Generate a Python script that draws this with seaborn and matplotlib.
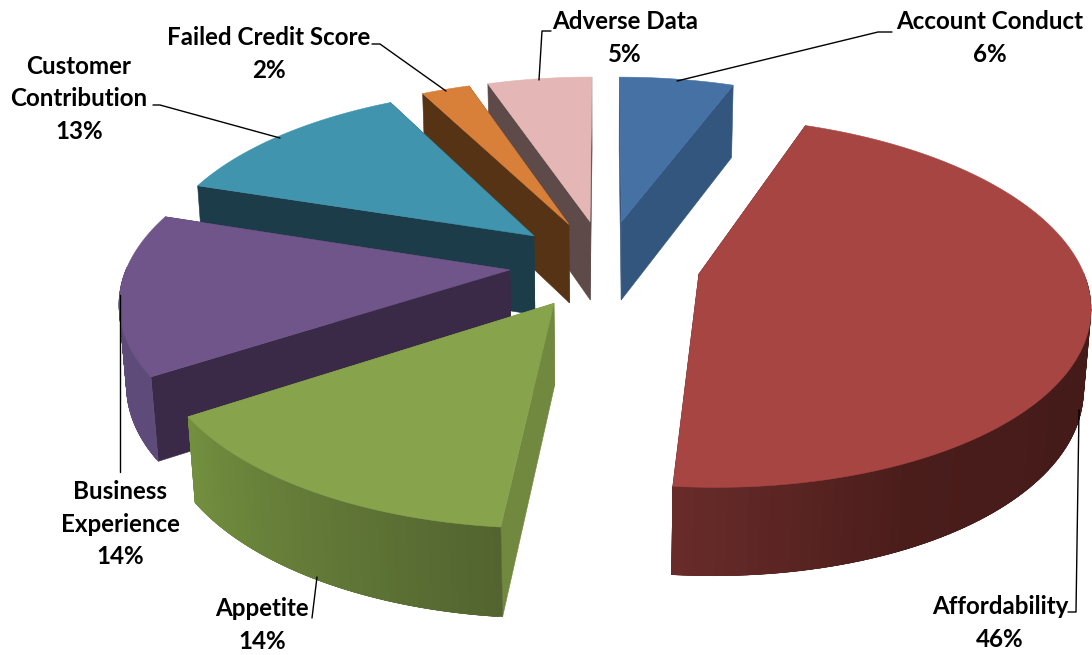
import numpy as np
import matplotlib
matplotlib.use('Agg')
import matplotlib.pyplot as plt
import seaborn as sns

labels = ['Account Conduct', 'Affordability', 'Appetite', 'Business\nExperience',
          'Customer\nContribution', 'Failed Credit Score', 'Adverse Data']
pct_text = [6, 46, 14, 14, 13, 2, 5]
# shares measured from the slice angles in the picture
shares = [5.7, 45.8, 14.3, 14.2, 12.4, 2.4, 5.2]

top_cols = ['#4671a5', '#a74543', '#87a44d', '#6f5589', '#4094ae', '#d8803a', '#e4b6b5']
radial_cols = ['#33567e', '#451b19', '#71893f', '#3a2a47', '#1b3c48', '#573316', '#5e4a49']
# outer wall colours, in clockwise order
arc_cols = [['#33567e', '#33567e'],
            ['#451b19', '#451b19', '#4a1d1b', '#692c2a'],
            ['#536430', '#73903f'],
            ['#5f4b7a', '#5f4b7a'],
            ['#1b3c48', '#1b3c48'],
            ['#573316', '#573316'],
            ['#5e4a49', '#5e4a49']]

# label position (centre of the block) and leader lines, in pixels
label_pos = [(990, 38), (1000, 623), (262, 625), (120, 524), (79, 99), (269, 54), (625, 38)]
leaders = [[(892, 32), (878, 32), (677, 81)],
           [(1068, 612), (1076, 612), (1079, 410)],
           [(312, 618), (317, 577)],
           [(120, 472), (120, 295)],
           [(153, 105), (160, 105), (280, 138)],
           [(372, 44), (380, 44), (446, 91)],
           [(551, 31), (542, 31), (539, 80)]]
draw_order = [6, 5, 4, 3, 2, 0, 1]

# projection of the tilted pie
cx, cy = 605, 264
R, S, D = 382, 178, 80
k, k2, c = 0.15, 0.09, 0.015
explode = 0.25


def proj(u, v, z=0.0):
    w = 1 - k * v
    x = cx + R * u / (w + c * z)
    y = cy + S * v / w + D * z / (1 - k2 * v)
    return x, y


sns.set_theme(style='white')
plt.rcParams['font.family'] = ['Lato', 'DejaVu Sans']

fig, ax = plt.subplots(figsize=(10.92, 6.55), dpi=100)
fig.subplots_adjust(0, 0, 1, 1)
ax.set_xlim(0, 1092)
ax.set_ylim(655, 0)
ax.axis('off')

edges = np.cumsum([0] + shares) / sum(shares) * 2 * np.pi


def fill(xs, ys, col, zo):
    ax.fill(xs, ys, color=col, lw=0.4, zorder=zo)


for n, i in enumerate(draw_order):
    a0, a1 = edges[i], edges[i + 1]
    mid = (a0 + a1) / 2
    ou, ov = explode * np.sin(mid), -explode * np.cos(mid)
    th = np.linspace(a0, a1, 120)
    us = ou + np.sin(th)
    vs = ov - np.cos(th)
    zo = n * 5 + 1

    # radial walls
    for a in (a0, a1):
        eu, ev = ou + np.sin(a), ov - np.cos(a)
        p = [proj(ou, ov), proj(eu, ev), proj(eu, ev, 1), proj(ou, ov, 1)]
        fill([q[0] for q in p], [q[1] for q in p], radial_cols[i], zo)

    # outer wall, only the part facing the viewer. strips overlap so no seams show
    front = np.where(np.cos(th) < 0.02)[0]
    if len(front) > 1:
        pal = sns.blend_palette(arc_cols[i], len(front))
        for j in range(len(front) - 1):
            s, e = front[j], front[min(j + 3, len(front) - 1)]
            p = [proj(us[s], vs[s]), proj(us[e], vs[e]), proj(us[e], vs[e], 1), proj(us[s], vs[s], 1)]
            fill([q[0] for q in p], [q[1] for q in p], pal[j], zo + 1)

    # top face
    x_top, y_top = proj(us, vs)
    x0, y0 = proj(ou, ov)
    fill(np.r_[x0, x_top], np.r_[y0, y_top], top_cols[i], zo + 2)

for name, val, pos, line in zip(labels, pct_text, label_pos, leaders):
    ax.plot([q[0] for q in line], [q[1] for q in line], color='black', lw=1.0, zorder=60)
    ax.text(pos[0], pos[1], f'{name}\n{val}%', ha='center', va='center', fontsize=17.4,
            fontweight='bold', color='black', linespacing=1.5, zorder=61)

fig.savefig('out.png', dpi=100)
